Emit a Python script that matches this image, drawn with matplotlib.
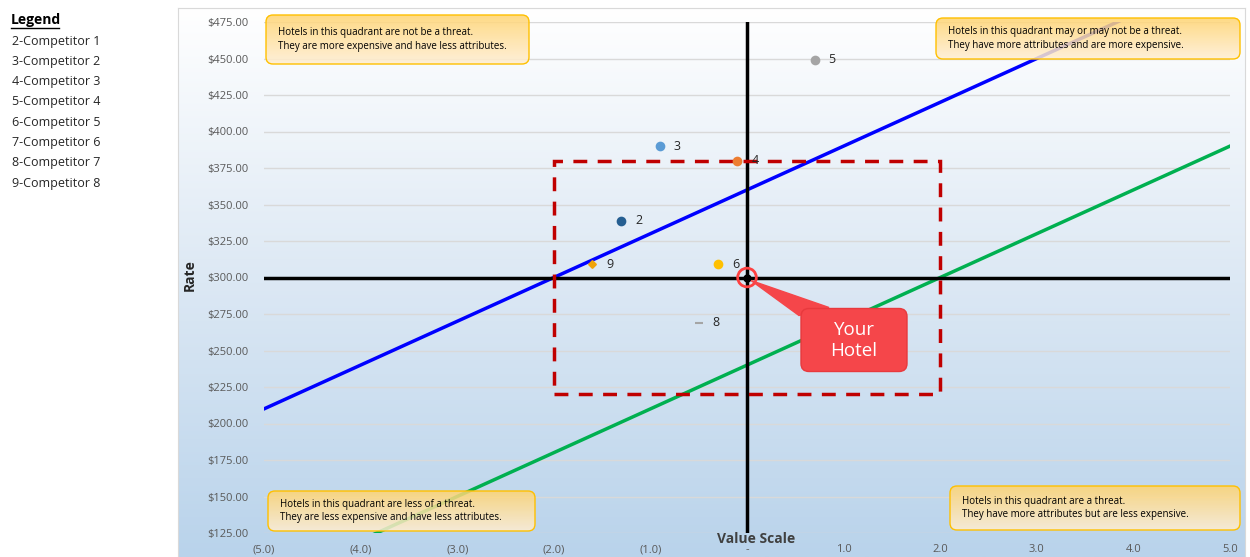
import numpy as np
import matplotlib
matplotlib.use("Agg")
import matplotlib.pyplot as plt
from matplotlib.patches import FancyBboxPatch, Rectangle, Polygon
from matplotlib.colors import LinearSegmentedColormap

plt.rcParams["font.family"] = ["Open Sans", "DejaVu Sans"]

# competitors: label number, value score, rate
comp_labels = ["2", "3", "4", "5", "6", "8", "9"]
comp_value = [-1.3, -0.9, -0.1, 0.7, -0.3, -0.5, -1.6]
comp_rate = [339, 390, 380, 449, 309, 269, 309]
comp_colors = ["#255e91", "#5b9bd5", "#ed7d31", "#a5a5a5", "#ffc000", "#a5a5a5", "#f0a30a"]
comp_markers = ["o", "o", "o", "o", "o", "_", "D"]
comp_sizes = [30, 30, 30, 30, 30, 30, 12]

legend_items = ["2-Competitor 1", "3-Competitor 2", "4-Competitor 3", "5-Competitor 4",
                "6-Competitor 5", "7-Competitor 6", "8-Competitor 7", "9-Competitor 8"]

hotel_value = 0
hotel_rate = 300

line_x = [-5, 5]
upper_rate = [210, 510]
lower_rate = [90, 390]

box_value = [-2, 2]
box_rate = [220, 380]

yticks = np.arange(125, 476, 25)
xticks = np.arange(-5, 6, 1)
xtick_labels = ["(5.0)", "(4.0)", "(3.0)", "(2.0)", "(1.0)", "-", "1.0", "2.0", "3.0", "4.0", "5.0"]

W, H = 1250, 557
fig = plt.figure(figsize=(12.5, 5.57), dpi=100)

# background gradient of the chart area
bg = fig.add_axes([178 / W, 0, (1245 - 178) / W, (557 - 8) / H])
cmap = LinearSegmentedColormap.from_list("bg", ["#ffffff", "#dce8f4", "#b9d3eb"])
bg.imshow(np.linspace(0, 1, 256).reshape(-1, 1), aspect="auto", cmap=cmap,
          extent=[0, 1, 0, 1], origin="upper")
bg.set_xlim(0, 1)
bg.set_ylim(0, 1)
for s in bg.spines.values():
    s.set_color("#d9d9d9")
bg.set_xticks([])
bg.set_yticks([])

ax = fig.add_axes([264 / W, 1 - 533 / H, (1230 - 264) / W, (533 - 22) / H])
ax.set_facecolor("none")
ax.set_xlim(-5, 5)
ax.set_ylim(125, 475)
ax.set_yticks(yticks)
ax.set_yticklabels([f"${v:.2f}" for v in yticks])
ax.set_xticks(xticks)
ax.set_xticklabels(xtick_labels)
ax.tick_params(length=0, labelsize=8, colors="#595959")
ax.tick_params(axis="y", pad=11)
ax.tick_params(axis="x", pad=8)
for s in ax.spines.values():
    s.set_visible(False)
ax.grid(axis="y", color="#d9d9d9", lw=1)
ax.set_axisbelow(True)

ax.plot(line_x, upper_rate, color="#0000ff", lw=2.5, zorder=3)
ax.plot(line_x, lower_rate, color="#00b050", lw=2.5, zorder=3)

ax.axvline(0, color="black", lw=2.5, zorder=4)
ax.axhline(300, color="black", lw=2.5, zorder=4)

ax.add_patch(Rectangle((box_value[0], box_rate[0]), box_value[1] - box_value[0],
                       box_rate[1] - box_rate[0], fill=False, ec="#c00000",
                       lw=2.5, ls=(0, (4, 3)), zorder=5))

for lab, xv, yv, c, m, s in zip(comp_labels, comp_value, comp_rate, comp_colors,
                                comp_markers, comp_sizes):
    ax.scatter(xv, yv, s=s, color=c, marker=m, zorder=6, linewidths=1.5)
    ax.annotate(lab, (xv, yv), xytext=(10, 0), textcoords="offset points",
                va="center", fontsize=9, color="#262626", zorder=6)

ax.scatter(hotel_value, hotel_rate, s=25, color="black", zorder=7)
ax.scatter(hotel_value, hotel_rate, s=180, facecolor="none", edgecolor="#ff4040",
           lw=2, zorder=7)

ax.text(0.509, -0.012, "Value Scale", transform=ax.transAxes, ha="center",
        va="center", fontsize=10, fontweight="bold", color="#404040")
fig.text(190 / W, 1 - 275 / H, "Rate", rotation=90, ha="center", va="center",
         fontsize=10, fontweight="bold", color="#262626")

# overlay in pixel coordinates for the note boxes and callout
ov = fig.add_axes([0, 0, 1, 1])
ov.set_xlim(0, W)
ov.set_ylim(H, 0)
ov.axis("off")

notes = [
    ((266, 15, 263, 49), "Hotels in this quadrant are not be a threat.\nThey are more expensive and have less attributes."),
    ((936, 18, 304, 41), "Hotels in this quadrant may or may not be a threat.\nThey have more attributes and are more expensive."),
    ((268, 491, 267, 40), "Hotels in this quadrant are less of a threat.\nThey are less expensive and have less attributes."),
    ((950, 486, 290, 44), "Hotels in this quadrant are a threat.\nThey have more attributes but are less expensive."),
]
note_cmap = LinearSegmentedColormap.from_list("note", ["#ffd470", "#ffeed2"])
for (x0, y0, w, h), txt in notes:
    p = FancyBboxPatch((x0, y0), w, h, boxstyle="round,pad=0,rounding_size=7",
                       fc="none", ec="#ffc000", lw=1, zorder=3)
    ov.add_patch(p)
    im = ov.imshow(np.linspace(0, 1, 64).reshape(-1, 1), cmap=note_cmap, aspect="auto",
                   extent=[x0, x0 + w, y0 + h, y0], alpha=0.85, zorder=2)
    im.set_clip_path(p)
    ov.text(x0 + 12, y0 + h / 2, txt, ha="left", va="center", fontsize=7,
            color="black", linespacing=1.3, zorder=4)

# "Your Hotel" callout, placed relative to the hotel point in pixels
fig.canvas.draw()
px, py = ax.transData.transform((hotel_value, hotel_rate))
py = H - py
red = "#f5464a"
ov.add_patch(Polygon([(px + 4, py + 3), (px + 52, py + 38), (px + 82, py + 30)],
                     closed=True, fc=red, ec=red, zorder=5))
ov.add_patch(FancyBboxPatch((px + 54, py + 31), 106, 63,
                            boxstyle="round,pad=0,rounding_size=8",
                            fc=red, ec="#e8393d", lw=1, zorder=5))
ov.text(px + 107, py + 63, "Your\nHotel", ha="center", va="center", fontsize=13.5,
        color="white", linespacing=1.15, zorder=6)
ov.set_xlim(0, W)
ov.set_ylim(H, 0)

fig.text(11 / W, 1 - 20 / H, "Legend", fontsize=10, fontweight="bold",
         va="center", color="black")
fig.lines.append(plt.Line2D([11 / W, 59 / W], [1 - 28 / H, 1 - 28 / H],
                            transform=fig.transFigure, color="black", lw=1))
for i, item in enumerate(legend_items):
    fig.text(12 / W, 1 - (41 + 20.3 * i) / H, item, fontsize=9, va="center",
             color="#262626")

fig.savefig("out.png", dpi=100)
